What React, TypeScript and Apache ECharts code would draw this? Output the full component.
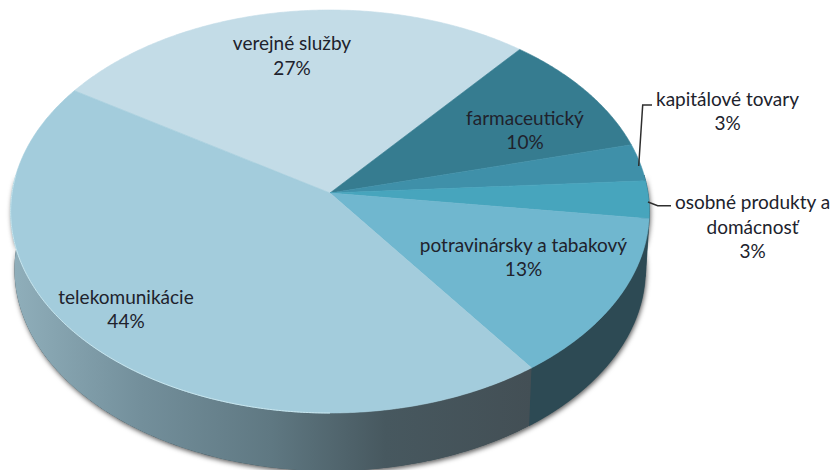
import React, { useEffect, useRef } from "react";
import * as echarts from "echarts";

const CATEGORIES = ["verejné služby", "farmaceutický", "kapitálové tovary", "osobné produkty a\ndomácnosť", "potravinársky a tabakový", "telekomunikácie"];
const VALUES = [27, 10, 3, 3, 13, 44];
const TOP_COLORS = ["#C3DCE7", "#367C90", "#3F90A9", "#47A5BD", "#70B7CF", "#A3CCDC"];
const WALL_COLORS: any[] = ["#6d8a96", "#24424c", "#264650", "#284852", "#2D4A54", {
  type: "linear", x: 0, y: 0, x2: 1, y2: 0,
  colorStops: [
    { offset: 0, color: "#90AFBB" },
    { offset: 0.25, color: "#738F9B" },
    { offset: 0.5, color: "#5F7882" },
    { offset: 0.72, color: "#47585F" },
    { offset: 1, color: "#434F55" },
  ],
}];

// Layout of the perspective disc
const CX = 330, APEX_Y = 193, RX = 318, RY = 199.8, K = -0.0918;
const START_DEG = 147.5, DEPTH = 58, LOWER_SCALE = 0.988;
const VISIBLE_FROM = 5.2, VISIBLE_TO = -185.2;
const LABEL_POS: number[][] = [[292, 55], [525, 129.5], [727.5, 110.5], [752.5, 226], [523.5, 256.5], [126, 308.5]];
const LEADERS: number[][][] = [
  [[638.7, 166], [642.7, 105], [652, 105]],
  [[648, 202], [657.7, 205.7], [671, 205.7]],
];
const FONT = '19px Lato';
const TEXT_COLOR = "#20222c";

const total = VALUES.reduce((a, b) => a + b, 0);
const startOf = (i: number) => START_DEG - (VALUES.slice(0, i).reduce((a, b) => a + b, 0) / total) * 360;

const project = (deg: number) => {
  const t = (deg * Math.PI) / 180;
  const u = Math.cos(t), v = -Math.sin(t), w = 1 + K * v;
  return [(RX * u) / w, (RY * v) / w];
};
const upper = (deg: number) => {
  const p = project(deg);
  return [CX + p[0], APEX_Y + p[1]];
};
const lower = (deg: number) => {
  const p = project(deg);
  return [CX + p[0] * LOWER_SCALE, APEX_Y + p[1] + DEPTH];
};
const arc = (from: number, to: number, f: (d: number) => number[]) => {
  const n = Math.max(2, Math.ceil(Math.abs(from - to) * 2));
  const pts: number[][] = [];
  for (let i = 0; i <= n; i++) pts.push(f(from + ((to - from) * i) / n));
  return pts;
};
const wallPoints = (a: number, b: number) => [...arc(a, b, upper), ...arc(b, a, lower)];

export default function App() {
  const ref = useRef<HTMLDivElement>(null);
  useEffect(() => {
    document.body.style.margin = "0";
    const chart = echarts.init(ref.current!, undefined, { renderer: "svg" });
    chart.setOption({
      animation: false,
      backgroundColor: "#ffffff",
      series: [
        {
          type: "custom",
          coordinateSystem: "none",
          silent: true,
          z: 1,
          data: [total],
          renderItem: () => ({
            type: "polygon",
            shape: { points: wallPoints(VISIBLE_FROM, VISIBLE_TO) },
            style: { fill: "#3c4a50", shadowBlur: 5, shadowOffsetX: 1, shadowOffsetY: 2, shadowColor: "rgba(0,0,0,0.65)" },
          }),
        },
        {
          type: "custom",
          coordinateSystem: "none",
          silent: true,
          z: 2,
          data: VALUES,
          renderItem: (params: any, api: any) => {
            const i = params.dataIndex;
            const a = startOf(i);
            const b = a - (api.value(0) / total) * 360;
            const from = Math.min(a, VISIBLE_FROM), to = Math.max(b, VISIBLE_TO);
            if (from <= to) return { type: "group", children: [] };
            return {
              type: "polygon",
              shape: { points: wallPoints(from, to) },
              style: { fill: WALL_COLORS[i], stroke: WALL_COLORS[i] === WALL_COLORS[5] ? undefined : WALL_COLORS[i], lineWidth: 0.5 },
            };
          },
        },
        {
          type: "custom",
          coordinateSystem: "none",
          silent: true,
          z: 3,
          data: VALUES,
          renderItem: (params: any, api: any) => {
            const i = params.dataIndex;
            const a = startOf(i);
            const b = a - (api.value(0) / total) * 360;
            const children: any[] = [{
              type: "polygon",
              shape: { points: [[CX, APEX_Y], ...arc(a, b, upper)] },
              style: { fill: TOP_COLORS[i], stroke: TOP_COLORS[i], lineWidth: 0.6 },
            }];
            if (i === 5) {
              children.push({
                type: "polyline",
                shape: { points: arc(VISIBLE_TO, -90, upper) },
                style: { fill: "none", stroke: "#c8e6ef", lineWidth: 1 },
              });
            }
            return { type: "group", children };
          },
        },
        {
          type: "custom",
          coordinateSystem: "none",
          silent: true,
          z: 4,
          data: VALUES,
          renderItem: (params: any, api: any) => {
            const i = params.dataIndex;
            return {
              type: "text",
              style: {
                text: `${CATEGORIES[i]}\n${api.value(0)}%`,
                x: LABEL_POS[i][0],
                y: LABEL_POS[i][1],
                align: "center",
                verticalAlign: "middle",
                textAlign: "center",
                textVerticalAlign: "middle",
                font: FONT,
                lineHeight: 24.5,
                fill: TEXT_COLOR,
              },
            };
          },
        },
        {
          type: "custom",
          coordinateSystem: "none",
          silent: true,
          z: 4,
          data: LEADERS.map((_, i) => i),
          renderItem: (params: any) => ({
            type: "polyline",
            shape: { points: LEADERS[params.dataIndex] },
            style: { fill: "none", stroke: "#2e2e2e", lineWidth: 1.5 },
          }),
        },
      ],
    });
    return () => chart.dispose();
  }, []);
  return <div ref={ref} style={{ position: "fixed", left: 0, top: 0, width: 832, height: 470 }} />;
}
